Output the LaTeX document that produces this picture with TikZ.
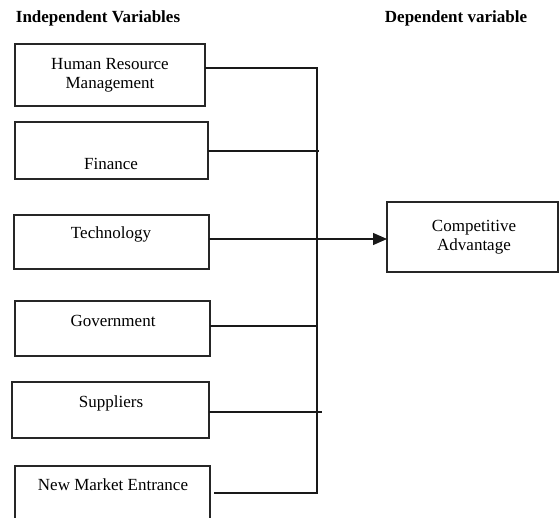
\documentclass[tikz,border=0pt]{standalone}
\usepackage{fontspec}
\setmainfont{Liberation Serif}
\usetikzlibrary{arrows.meta}
\begin{document}
\begin{tikzpicture}[x=1pt,y=-1pt,
  box/.style={draw=black!85,line width=1.1pt},
  lbl/.style={font=\fontsize{17}{19}\selectfont,align=center,inner sep=0pt},
  ttl/.style={font=\fontsize{17}{19}\selectfont\bfseries,inner sep=0pt},
  conn/.style={line width=1.3pt,black!90}]
\useasboundingbox (0,0) rectangle (559,518);
\clip (0,0) rectangle (559,518);
\node[ttl] (t1) at (98,18) {Independent Variables};
\node[ttl] (t2) at (456,18) {Dependent variable};
% boxes
\draw[box] (15,44) rectangle (205,106);
\coordinate (hrmE) at (205,68);
\node[lbl] (hrmT) at (110,75) {Human Resource\\Management};
\draw[box] (15,122) rectangle (208,179);
\coordinate (finE) at (208,151);
\node[lbl] (finT) at (111,164) {Finance};
\draw[box] (14,215) rectangle (209,269);
\coordinate (techE) at (209,239);
\node[lbl] (techT) at (111,234) {Technology};
\draw[box] (15,301) rectangle (210,356);
\coordinate (govE) at (210,326);
\node[lbl] (govT) at (113,321) {Government};
\draw[box] (12,382) rectangle (209,438);
\coordinate (supE) at (209,412);
\node[lbl] (supT) at (111,403) {Suppliers};
\draw[box] (15,466) rectangle (210,540);
\coordinate (nmeE) at (214,493);
\node[lbl] (nmeT) at (113,485) {New Market Entrance};
\draw[box] (387,202) rectangle (558,272);
\coordinate (compW) at (387,239);
\node[lbl] (compT) at (474,237) {Competitive\\Advantage};
% bus
\coordinate (b1) at (317,68);
\coordinate (b2) at (319,151);
\coordinate (b4) at (318,326);
\coordinate (b5) at (322,412);
\coordinate (b6) at (317,493);
\draw[conn] (hrmE) -- (b1) -- (b6) -- (nmeE);
\draw[conn] (finE) -- (b2);
\draw[conn] (govE) -- (b4);
\draw[conn] (supE) -- (b5);
\draw[conn,-{Triangle[length=14pt,width=12pt]}] (techE) -- (compW);
\end{tikzpicture}
\end{document}
